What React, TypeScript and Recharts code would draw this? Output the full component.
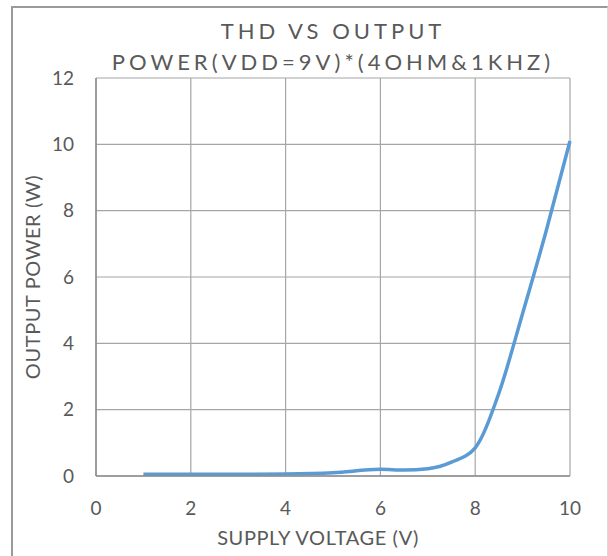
import React from 'react';
import { LineChart, Line, XAxis, YAxis, CartesianGrid, Label } from 'recharts';

// supply voltage (V) and measured output power (W)
const voltage = [1, 2, 3, 4, 5, 6, 6.5, 7, 7.5, 8, 8.5, 9, 9.5, 10];
const outputPower = [0.05, 0.05, 0.05, 0.06, 0.1, 0.2, 0.18, 0.22, 0.42, 0.85, 2.5, 4.9, 7.4, 10.1];

const xTicks = [0, 2, 4, 6, 8, 10];
const yTicks = [0, 2, 4, 6, 8, 10, 12];

const titleLines = ['THD VS OUTPUT', 'POWER(VDD=9V)*(4OHM&1KHZ)'];

const data = voltage.map((v, i) => ({ v, p: outputPower[i] }));

const FONT = 'Lato, "Open Sans", sans-serif';
const TEXT = '#595959';
const GRID = '#a6a6a6';

const App: React.FC = () => {
  return (
    <div style={{ position: 'absolute', left: 0, top: 0, width: 608, height: 556, background: '#fff', overflow: 'hidden', fontFamily: FONT }}>
      {/* outer frame */}
      <div style={{ position: 'absolute', left: 11, top: 6, width: 594, height: 560, borderTop: '2px solid #9a9a9a', borderLeft: '2px solid #9a9a9a', borderRight: '1px solid #d9d9d9' }} />
      {titleLines.map((t, i) => (
        <div
          key={t}
          style={{
            position: 'absolute',
            left: 0,
            width: 666,
            top: 16 + i * 31,
            textAlign: 'center',
            fontSize: 22,
            letterSpacing: 4,
            color: TEXT,
            lineHeight: '30px',
          }}
        >
          {t}
        </div>
      ))}
      <div style={{ position: 'absolute', left: 0, top: 0 }}>
        <LineChart width={608} height={556} data={data} margin={{ top: 78, right: 38, bottom: 0, left: 0 }}>
          <CartesianGrid stroke={GRID} strokeWidth={1.2} />
          <XAxis
            dataKey="v"
            type="number"
            domain={[0, 10]}
            ticks={xTicks}
            stroke="#8c8c8c"
            strokeWidth={1.5}
            tickLine={false}
            tick={{ fill: TEXT, fontSize: 19, fontFamily: FONT }}
            tickMargin={20}
            height={80}
          >
            <Label value="SUPPLY VOLTAGE (V)" position="insideBottom" offset={11} dx={-15} fill={TEXT} fontSize={20} letterSpacing={0.6} fontFamily={FONT} />
          </XAxis>
          <YAxis
            type="number"
            domain={[0, 12]}
            ticks={yTicks}
            stroke="#8c8c8c"
            strokeWidth={1.5}
            tickLine={false}
            tick={{ fill: TEXT, fontSize: 19, fontFamily: FONT }}
            tickMargin={16}
            width={96}
          >
            <Label value="OUTPUT POWER (W)" angle={-90} position="insideLeft" offset={33} fill={TEXT} fontSize={20} letterSpacing={0.6} fontFamily={FONT} style={{ textAnchor: 'middle' }} />
          </YAxis>
          <Line
            dataKey="p"
            type="monotone"
            stroke="#5b9bd5"
            strokeWidth={3.5}
            dot={false}
            isAnimationActive={false}
          />
        </LineChart>
      </div>
    </div>
  );
};

export default App;
